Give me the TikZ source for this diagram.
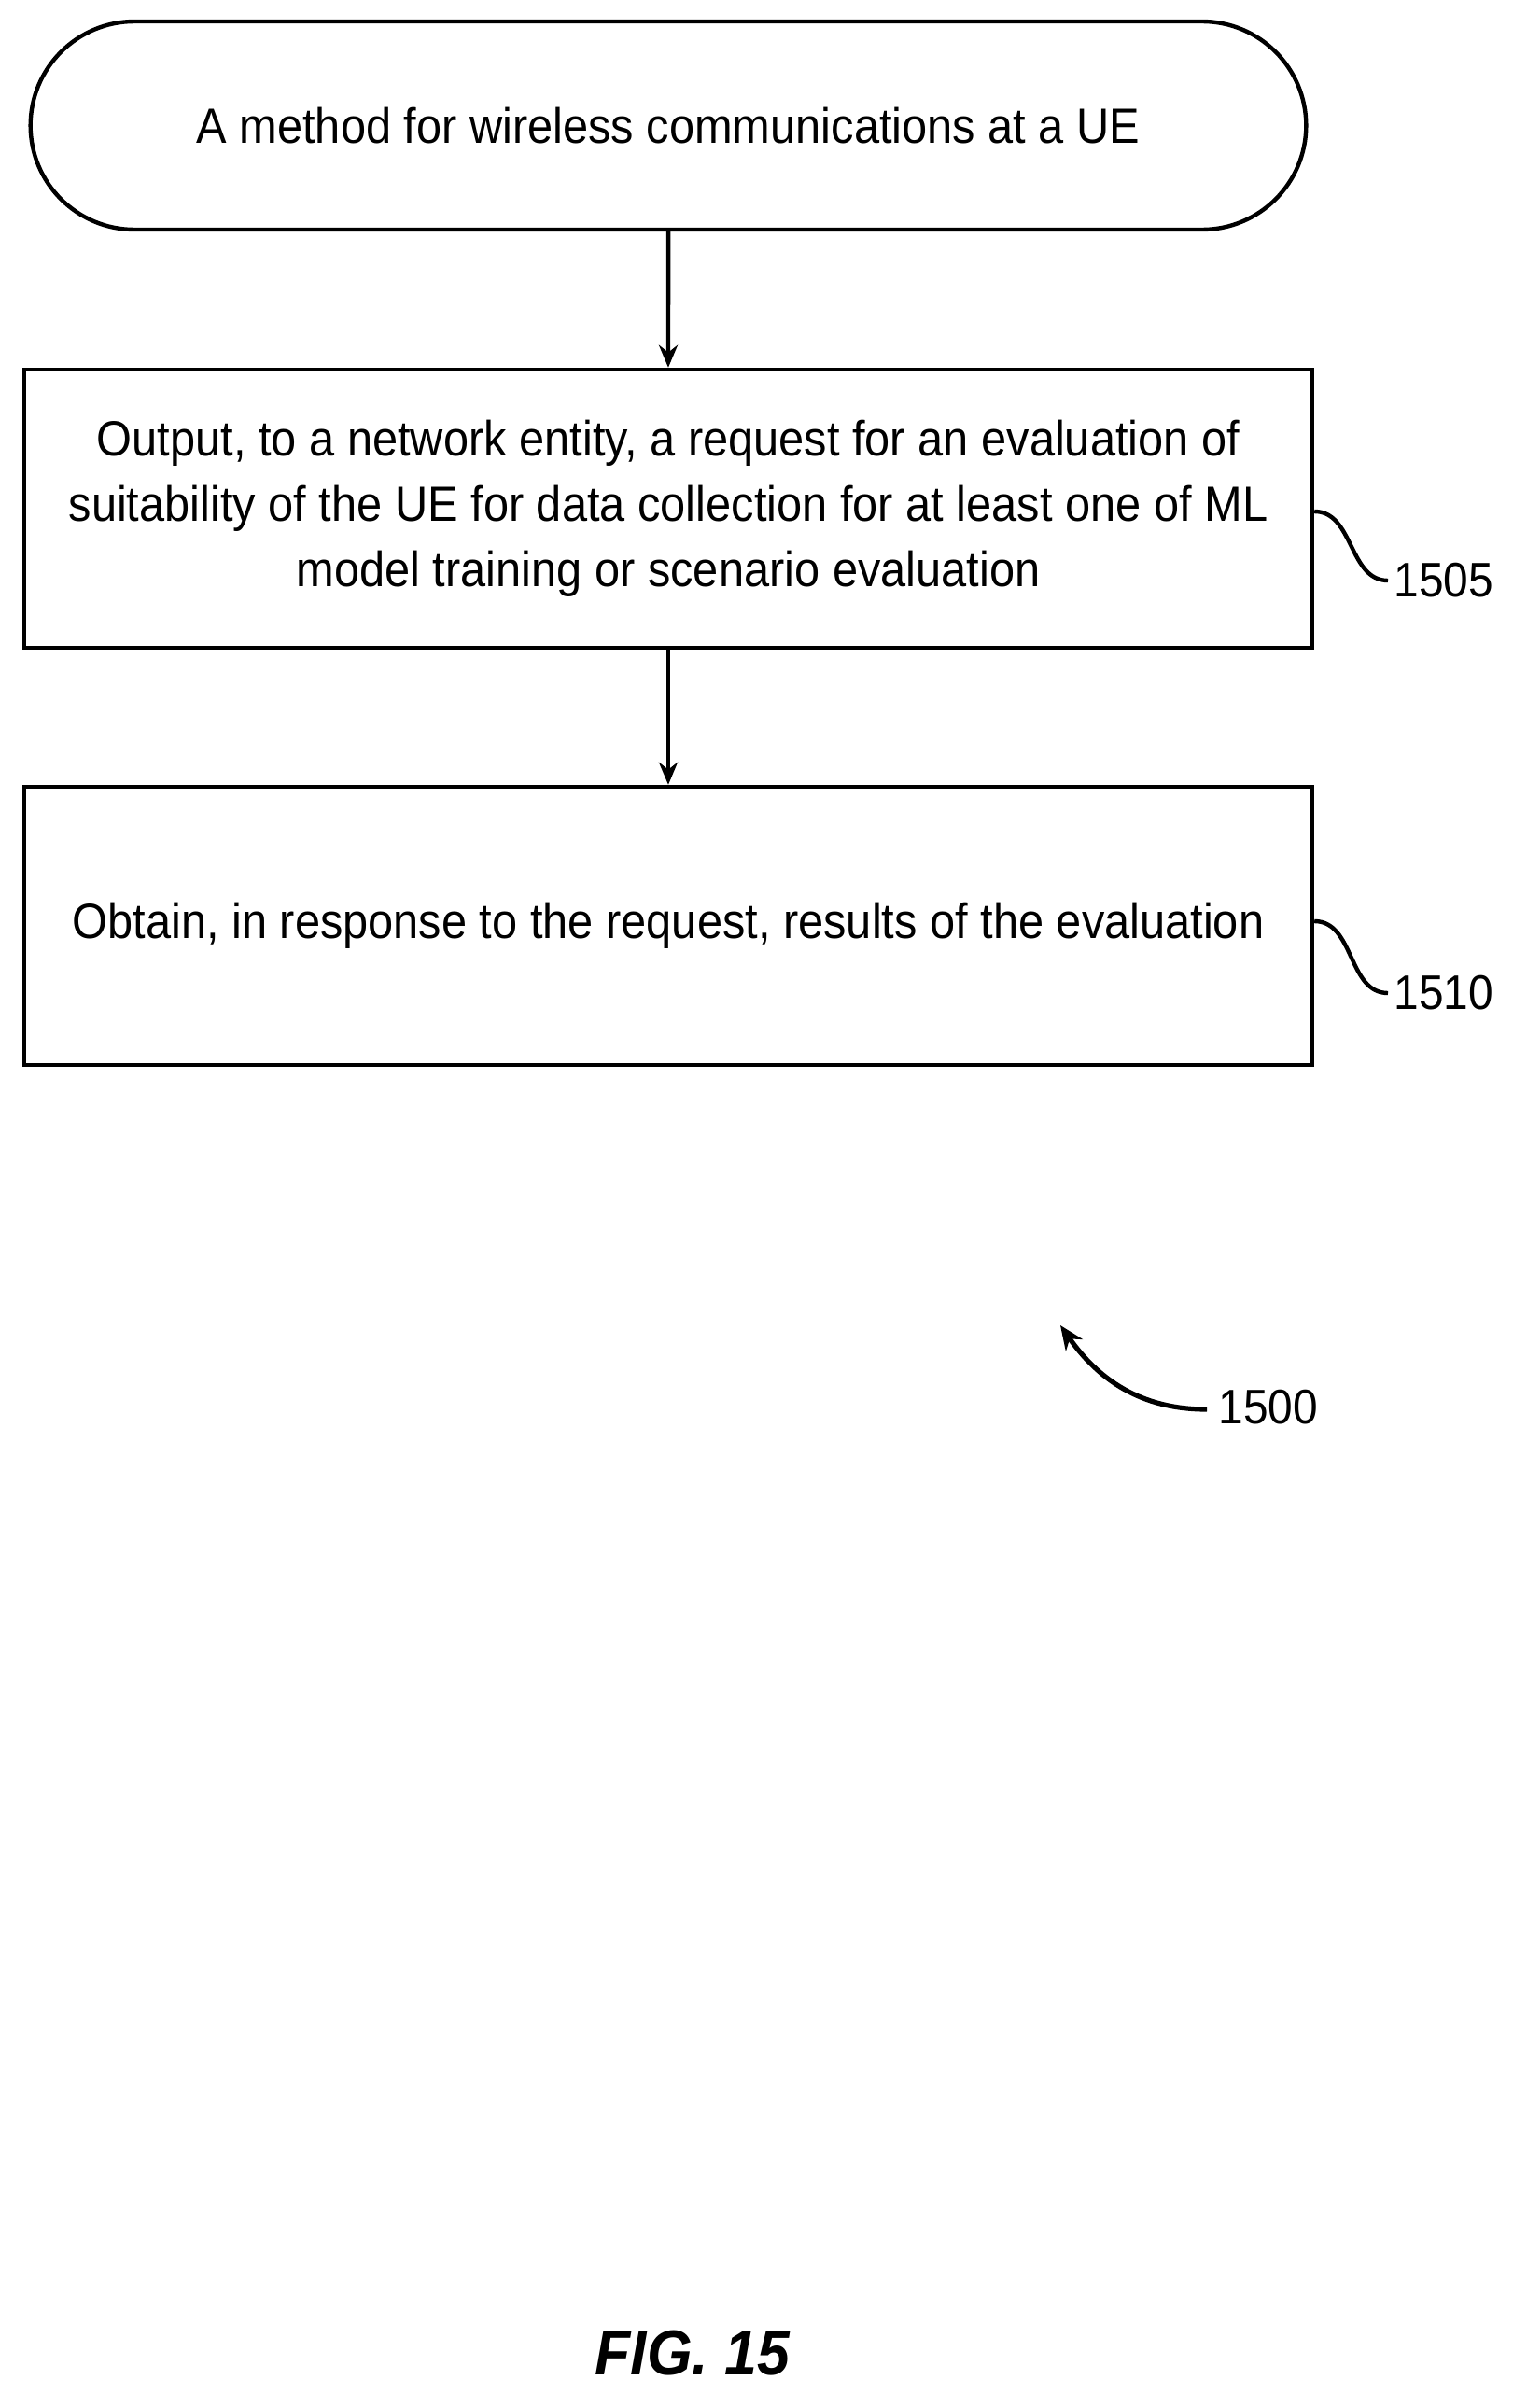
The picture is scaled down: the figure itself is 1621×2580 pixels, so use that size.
\documentclass[tikz,border=0pt]{standalone}
\usepackage{fontspec}
\setmainfont{Liberation Sans}[FakeStretch=0.92]
\usetikzlibrary{arrows.meta,shapes.misc}
\begin{document}
\begin{tikzpicture}[x=0.5pt,y=-0.5pt,
  box/.style={draw,line width=2.2pt,minimum width=690pt,minimum height=149pt,align=center,font=\fontsize{26.5}{35}\selectfont,inner sep=0pt},
  term/.style={draw,line width=2.2pt,rounded rectangle,minimum width=690pt,minimum height=111.5pt,font=\fontsize{26.5}{35}\selectfont},
  flow/.style={line width=2.2pt,-{Stealth[length=12pt,width=10pt]}},
  lead/.style={line width=2.2pt},
  lbl/.style={font=\fontsize{26}{30}\selectfont,inner sep=0pt,anchor=west}]
\useasboundingbox (0,0) rectangle (1621,2580);
\node[term] (t) at (716,134.5) {A method for wireless communications at a UE};
\node[box] (b1) at (716,545) {Output, to a network entity, a request for an evaluation of\\suitability of the UE for data collection for at least one of ML\\model training or scenario evaluation};
\node[box] (b2) at (716,992) {Obtain, in response to the request, results of the evaluation};
\draw[flow] (t) -- (b1);
\draw[flow] (b1) -- (b2);
\node[lbl] (l1505) at (1493,622) {1505};
\node[lbl] (l1510) at (1493,1064) {1510};
\draw[lead] (b1.east |- 0,548) to[out=0,in=180] ([xshift=-3]l1505.west);
\draw[lead] (b2.east |- 0,987) to[out=0,in=180] ([xshift=-3]l1510.west);
\node[lbl] (l1500) at (1305,1508) {1500};
\coordinate (tip) at (1136,1420);
\draw[line width=2.6pt,-{Stealth[length=13pt,width=11pt]}] (l1500.west) ++(-12,2) to[out=180,in=-55] (tip);
\node[font=\fontsize{34}{40}\bfseries\itshape\selectfont] (fig) at (742,2521) {FIG. 15};
\end{tikzpicture}
\end{document}
